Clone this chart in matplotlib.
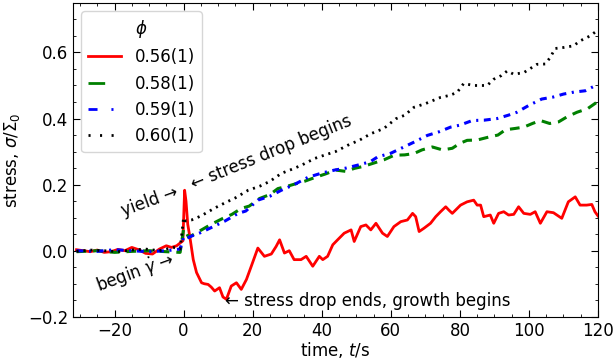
import numpy as np
import matplotlib
matplotlib.use("Agg")
import matplotlib.pyplot as plt
from matplotlib.lines import Line2D

plt.rcParams['font.size'] = 12
plt.rcParams['lines.scale_dashes'] = False

# phi = 0.56(1)
t_056 = [-31, -29, -27, -25, -23, -21, -19, -17, -15, -13, -11, -9, -7, -5, -3.5, -2,
         -0.8, -0.2, 0.3, 0.7, 1.2, 1.8, 2.8, 3.75, 5.2, 6, 7.1, 8, 9, 10.4, 11.4, 12.4,
         13.8, 15.3, 16.7, 18.2, 19.6, 21.5, 23.4, 25.4, 26.8, 27.8, 29.2, 30.6, 32, 34,
         35.5, 37.4, 39.3, 40.3, 41.7, 43.2, 44.6, 46.5, 48.5, 49.4, 51.3, 52.8, 54.2,
         55.7, 57.6, 59, 60.9, 62.9, 64.8, 66.3, 67.2, 68.2, 69.6, 71.5, 73, 74.4, 75.9,
         76.8, 77.8, 80.2, 82.1, 84, 85, 86, 86.9, 88.8, 89.8, 91.2, 92.7, 94.1, 95.6,
         97, 98.5, 100.4, 101.8, 103.3, 105.2, 107.1, 109.5, 111.4, 113.4, 114.8, 116.7,
         118.2, 119.1, 120]
s_056 = [0.003, 0.0, -0.003, 0.002, -0.005, -0.003, 0.004, 0.0, 0.01, 0.003, -0.008, -0.01,
         0.005, 0.015, 0.01, 0.015, 0.025, 0.03, 0.183, 0.15, 0.08, 0.043, -0.027, -0.066,
         -0.097, -0.1, -0.102, -0.11, -0.122, -0.112, -0.14, -0.147, -0.107, -0.097,
         -0.117, -0.087, -0.047, 0.008, -0.017, -0.01, 0.013, 0.033, -0.007, 0.0, -0.027,
         -0.027, -0.017, -0.047, -0.017, -0.027, -0.017, 0.018, 0.033, 0.053, 0.063,
         0.028, 0.073, 0.078, 0.063, 0.083, 0.053, 0.043, 0.073, 0.088, 0.093, 0.113,
         0.103, 0.058, 0.068, 0.083, 0.103, 0.118, 0.133, 0.123, 0.113, 0.138, 0.148,
         0.153, 0.138, 0.138, 0.103, 0.108, 0.083, 0.113, 0.118, 0.108, 0.11, 0.133,
         0.113, 0.11, 0.118, 0.083, 0.118, 0.115, 0.098, 0.148, 0.163, 0.138, 0.138,
         0.14, 0.118, 0.105]

# phi = 0.58(1)
t_058 = [-31, -25, -20, -15, -10, -5, -1, 0, 0.5, 1.5, 3, 5.2, 8, 11.4, 14, 16.7, 19, 22,
         25, 27.3, 30, 32.6, 35, 38.4, 41, 44.1, 47, 49.4, 52, 54.7, 58, 61, 64, 66.7,
         69, 72, 75, 77.8, 80, 82.1, 85, 88.4, 91, 93.2, 96, 98.5, 101, 103.3, 106,
         108.6, 111, 113.9, 117, 119.6, 120]
s_058 = [-0.003, 0.0, -0.005, -0.002, 0.0, -0.003, -0.005, 0.065, 0.06, 0.04, 0.05, 0.063,
         0.08, 0.098, 0.11, 0.128, 0.135, 0.158, 0.17, 0.188, 0.195, 0.203, 0.21, 0.223,
         0.232, 0.244, 0.24, 0.249, 0.255, 0.264, 0.275, 0.289, 0.29, 0.294, 0.305,
         0.314, 0.305, 0.31, 0.325, 0.334, 0.335, 0.344, 0.35, 0.366, 0.37, 0.374,
         0.385, 0.394, 0.385, 0.39, 0.405, 0.419, 0.43, 0.449, 0.455]

# phi = 0.59(1)
t_059 = [-31, -25, -20, -15, -10, -5, -1, 0, 0.5, 2, 5, 9, 12, 15.8, 18, 21.5, 25, 28.3,
         32, 36, 40, 43.7, 47, 50.4, 54, 56.2, 60, 63.8, 67, 70.6, 74, 77.3, 80, 83.6,
         87, 90.8, 94, 96.5, 100, 103.7, 107, 110, 113, 116.3, 119.1, 120]
s_059 = [0.0, -0.002, 0.003, 0.0, -0.003, 0.0, 0.005, 0.04, 0.035, 0.043, 0.055, 0.075,
         0.09, 0.113, 0.12, 0.153, 0.165, 0.183, 0.2, 0.222, 0.235, 0.244, 0.25, 0.259,
         0.269, 0.284, 0.295, 0.314, 0.33, 0.349, 0.36, 0.374, 0.38, 0.394, 0.395, 0.40,
         0.41, 0.419, 0.44, 0.459, 0.465, 0.474, 0.48, 0.484, 0.499, 0.5]

# phi = 0.60(1)
t_060 = [-31, -27, -23, -19, -15, -11, -7, -3, -1, 0, 0.5, 2.3, 5, 9, 12, 15, 18.7, 22,
         25, 28.3, 31, 34, 37.9, 41, 44, 47.5, 51, 54.2, 58, 61.4, 64, 66.7, 70, 74.4,
         77, 79.2, 81.1, 84, 87.9, 89.8, 92, 93.7, 95.6, 98.5, 102.3, 104.7, 106.1,
         107.6, 110, 112.9, 114.8, 117.7, 119.6, 120]
s_060 = [-0.002, 0.002, 0.0, -0.003, 0.002, 0.005, 0.0, 0.01, 0.005, 0.1, 0.09, 0.093,
         0.105, 0.129, 0.145, 0.16, 0.183, 0.195, 0.21, 0.234, 0.245, 0.258, 0.279, 0.29,
         0.3, 0.319, 0.335, 0.354, 0.37, 0.399, 0.41, 0.434, 0.445, 0.464, 0.47, 0.479,
         0.506, 0.5, 0.5, 0.519, 0.53, 0.544, 0.534, 0.539, 0.564, 0.565, 0.584, 0.612,
         0.615, 0.62, 0.635, 0.65, 0.665, 0.668]

labels = ['0.56(1)', '0.58(1)', '0.59(1)', '0.60(1)']

fig = plt.figure(figsize=(6.14, 3.6), dpi=100)
ax = fig.add_axes([0.119, 0.12, 0.855, 0.872])

ax.plot(t_056, s_056, color='red', lw=2)
ax.plot(t_058, s_058, color='green', lw=2.2, dashes=(7, 5))
ax.plot(t_059, s_059, color='blue', lw=2.2, dashes=(5, 4, 1.5, 4))
ax.plot(t_060, s_060, color='black', lw=2, dashes=(1.5, 3.5))

# legend handles with the longer patterns seen in the key
handles = [Line2D([], [], color='red', lw=2),
           Line2D([], [], color='green', lw=2, dashes=(12, 16)),
           Line2D([], [], color='blue', lw=2, dashes=(6.5, 10, 1.5, 10)),
           Line2D([], [], color='black', lw=2, dashes=(1.5, 6.8))]
ax.legend(handles, labels, title=r'$\phi$', loc='upper left', fontsize=12,
          title_fontsize=12)

ax.text(-1.7, 0.18, 'yield →', rotation=20, rotation_mode='anchor',
        ha='right', va='center')
ax.text(-2.8, -0.025, r'begin $\dot{\gamma}$ →', rotation=20, rotation_mode='anchor',
        ha='right', va='center')
ax.text(2.4, 0.2, '← stress drop begins', rotation=22, rotation_mode='anchor',
        ha='left', va='center')
ax.text(11.9, -0.152, '← stress drop ends, growth begins', ha='left', va='center')

ax.set_xlim(-32, 120)
ax.set_ylim(-0.2, 0.75)
ax.set_xticks([-20, 0, 20, 40, 60, 80, 100, 120])
ax.set_xticks(np.arange(-30, 121, 5), minor=True)
ax.set_yticks([-0.2, 0.0, 0.2, 0.4, 0.6])
ax.set_yticks(np.arange(-0.2, 0.751, 0.05), minor=True)
ax.tick_params(which='both', direction='in', top=True, right=True)
ax.tick_params(which='major', length=5)
ax.tick_params(which='minor', length=2.5)
ax.set_xlabel('time, $t$/s', labelpad=0)
ax.set_ylabel(r'stress, $\sigma/\Sigma_0$')

fig.savefig('out.png', dpi=100)
